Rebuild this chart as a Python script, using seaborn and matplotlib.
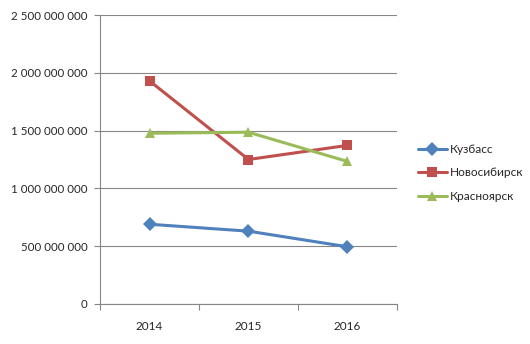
import matplotlib
matplotlib.use("Agg")
import matplotlib.pyplot as plt
import matplotlib.ticker as mticker
import seaborn as sns
import pandas as pd

years = ["2014", "2015", "2016"]
kuzbass = [690_000_000, 630_000_000, 495_000_000]
novosibirsk = [1_930_000_000, 1_250_000_000, 1_372_000_000]
krasnoyarsk = [1_477_000_000, 1_486_000_000, 1_233_000_000]
series_names = ["Кузбасс", "Новосибирск", "Красноярск"]
y_ticks = [0, 500_000_000, 1_000_000_000, 1_500_000_000, 2_000_000_000, 2_500_000_000]

df = pd.DataFrame({
    "year": years * 3,
    "value": kuzbass + novosibirsk + krasnoyarsk,
    "region": [n for n in series_names for _ in years],
})

sns.set_style("white")
plt.rcParams["font.family"] = ["Lato", "DejaVu Sans"]

palette = {"Кузбасс": "#4F81BD", "Новосибирск": "#C0504D", "Красноярск": "#9BBB59"}
markers = {"Кузбасс": "D", "Новосибирск": "s", "Красноярск": "^"}

fig = plt.figure(figsize=(5.30, 3.44), dpi=100)
ax = fig.add_axes([100 / 530, 1 - 304 / 344, 297 / 530, 289 / 344])

sns.lineplot(
    data=df, x="year", y="value", hue="region", style="region",
    palette=palette, markers=markers, dashes=False, markersize=6.8,
    markeredgewidth=0, linewidth=2.2, sort=False, ax=ax,
)

ax.set_xlim(-0.5, 2.5)
ax.set_ylim(0, 2_500_000_000)
ax.set_yticks(y_ticks)
ax.yaxis.set_major_formatter(
    mticker.FuncFormatter(lambda v, _: f"{v:,.0f}".replace(",", " "))
)
ax.set_xticks([0, 1, 2])
ax.set_xticklabels(years)
ax.xaxis.set_minor_locator(mticker.FixedLocator([-0.5, 0.5, 1.5, 2.5]))

ax.grid(axis="y", color="#868686", linewidth=0.8)
ax.set_axisbelow(True)
for side in ["top", "right"]:
    ax.spines[side].set_visible(False)
for side in ["left", "bottom"]:
    ax.spines[side].set_color("#868686")
    ax.spines[side].set_linewidth(0.8)

ax.tick_params(axis="y", which="major", length=4, width=0.8, color="#868686",
               labelsize=8.3, pad=5, left=True)
ax.tick_params(axis="x", which="major", length=0, labelsize=8.5, pad=12)
ax.tick_params(axis="x", which="minor", length=4, width=0.8, color="#868686",
               bottom=True)
ax.set_xlabel("")
ax.set_ylabel("")

handles, labels = ax.get_legend_handles_labels()
ax.legend(handles, labels, loc="center left", bbox_to_anchor=(412 / 530, 1 - 173 / 344),
          bbox_transform=fig.transFigure, frameon=False, fontsize=8.6,
          handlelength=2.4, handletextpad=0.3, labelspacing=1.05, borderpad=0)

fig.savefig("out.png", dpi=100)
